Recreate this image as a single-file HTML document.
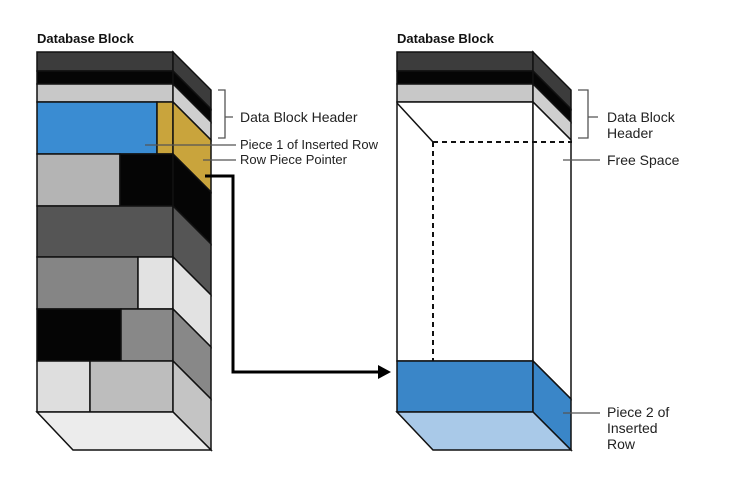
<!DOCTYPE html>
<html><head><meta charset="utf-8"><style>
html,body{margin:0;padding:0;background:#fff;}
svg{display:block;font-family:"Liberation Sans",sans-serif;}
</style></head><body>
<svg width="734" height="498" viewBox="0 0 734 498">
<script>
</script>
<g id="left" stroke="#111" stroke-width="1.5">
</g>
<g id="right" stroke="#111" stroke-width="1.5">
</g>
<text x="37" y="43" font-size="13" font-weight="bold" fill="#111">Database Block</text>
<text x="397" y="43" font-size="13" font-weight="bold" fill="#111">Database Block</text>
<g fill="none" stroke="#555" stroke-width="1.3">
<path d="M218 90 H225 V138 H218 M225 117 H233"/>
<path d="M145 145 H236"/>
<path d="M203 160 H236"/>
<path d="M578 90 H588 V138 H578 M588 117 H598"/>
<path d="M563 160 H600"/>
<path d="M563 413 H600"/>
</g>
<g font-size="14" fill="#222">
<text x="240" y="122">Data Block Header</text>
<text x="240" y="149" font-size="13">Piece 1 of Inserted Row</text>
<text x="240" y="164" font-size="13">Row Piece Pointer</text>
<text x="607" y="122">Data Block</text>
<text x="607" y="138">Header</text>
<text x="607" y="165">Free Space</text>
<text x="607" y="417">Piece 2 of</text>
<text x="607" y="433">Inserted</text>
<text x="607" y="449">Row</text>
</g>
<path d="M205 176 H233 V372 H380" fill="none" stroke="#000" stroke-width="3"/>
<polygon points="378,365 391,372 378,379" fill="#000"/>
<script>
const NS="http://www.w3.org/2000/svg";
function poly(g,pts,fill,name){const p=document.createElementNS(NS,'polygon');p.setAttribute('points',pts.map(a=>a.join(',')).join(' '));p.setAttribute('fill',fill);


g.appendChild(p);}
const D=38;
function block(g,x0,x1,rows,bottomFill,prefix){
  rows.forEach((r,i)=>{
    let xs=x0;
    r.cells.forEach((c,j)=>{const xe=c[0];poly(g,[[xs,r.y1],[xe,r.y1],[xe,r.y2],[xs,r.y2]],c[1],prefix+'-row-'+i+'-cell-'+j);xs=xe;});
    poly(g,[[x1,r.y1],[x1+D,r.y1+D],[x1+D,r.y2+D],[x1,r.y2]],r.side,prefix+'-side-'+i);
  });
  const yb=rows[rows.length-1].y2;
  poly(g,[[x0,yb],[x1,yb],[x1+D,yb+D],[x0+36,yb+D]],bottomFill,prefix+'-bottom-face');
}
const L=document.getElementById('left');
block(L,37,173,[
 {y1:52,y2:71,cells:[[173,'#3c3c3c']],side:'#3c3c3c'},
 {y1:71,y2:84,cells:[[173,'#050505']],side:'#050505'},
 {y1:84,y2:102,cells:[[173,'#c8c8c8']],side:'#cfcfcf'},
 {y1:102,y2:154,cells:[[157,'#3a8cd2'],[173,'#c9a43c']],side:'#c9a43c'},
 {y1:154,y2:206,cells:[[120,'#b4b4b4'],[173,'#050505']],side:'#050505'},
 {y1:206,y2:257,cells:[[173,'#555555']],side:'#555555'},
 {y1:257,y2:309,cells:[[138,'#858585'],[173,'#e2e2e2']],side:'#e2e2e2'},
 {y1:309,y2:361,cells:[[121,'#050505'],[173,'#888888']],side:'#888888'},
 {y1:361,y2:412,cells:[[90,'#dedede'],[173,'#bdbdbd']],side:'#c4c4c4'}
],'#ececec','left');
const R=document.getElementById('right');
block(R,397,533,[
 {y1:52,y2:71,cells:[[533,'#3c3c3c']],side:'#3c3c3c'},
 {y1:71,y2:84,cells:[[533,'#050505']],side:'#050505'},
 {y1:84,y2:102,cells:[[533,'#c8c8c8']],side:'#cfcfcf'},
 {y1:102,y2:361,cells:[[533,'#ffffff']],side:'#ffffff'},
 {y1:361,y2:412,cells:[[533,'#3a86c8']],side:'#3a86c8'}
],'#a9c9e8','right');
const ln=(x1,y1,x2,y2,dash,name)=>{const l=document.createElementNS(NS,'line');l.setAttribute('x1',x1);l.setAttribute('y1',y1);l.setAttribute('x2',x2);l.setAttribute('y2',y2);l.setAttribute('stroke','#111');l.setAttribute('stroke-width',dash?'2':'1.5');if(dash)l.setAttribute('stroke-dasharray','5,4');


R.appendChild(l);};
ln(397,103,433,142,false,'inner-diagonal');
ln(433,142,572,142,true,'hidden-top-edge');
ln(433,142,433,361,true,'hidden-vertical-edge');
</script>
</svg>
</body></html>
